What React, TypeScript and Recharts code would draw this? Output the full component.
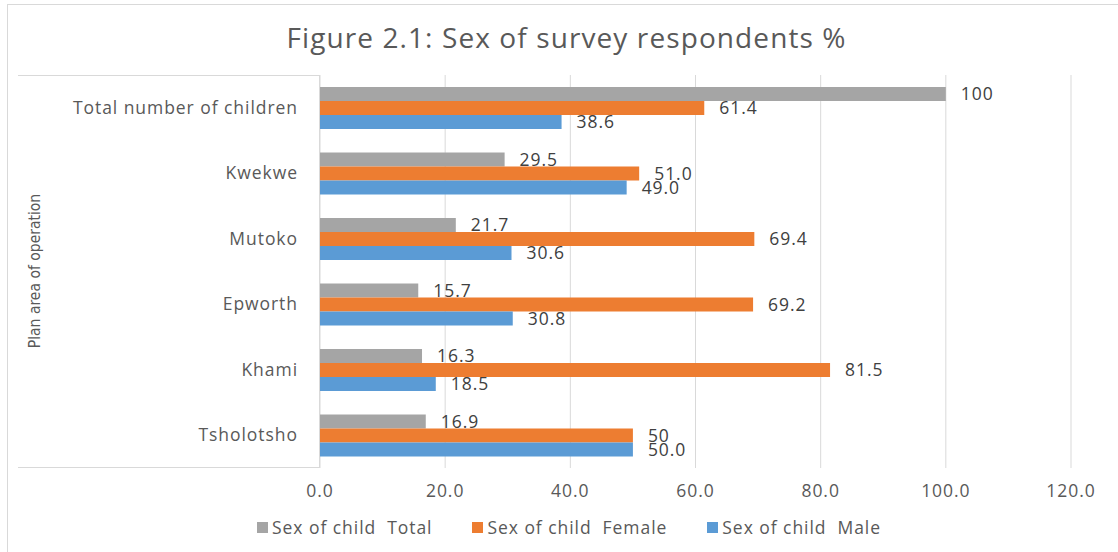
import { BarChart, Bar, XAxis, YAxis, CartesianGrid, LabelList } from 'recharts'

// Plan areas, top to bottom
const categories = ['Total number of children', 'Kwekwe', 'Mutoko', 'Epworth', 'Khami', 'Tsholotsho']

// Percentages as printed on the bars (the text is kept so labels read exactly as shown)
const totalPct = ['100', '29.5', '21.7', '15.7', '16.3', '16.9']
const femalePct = ['61.4', '51.0', '69.4', '69.2', '81.5', '50']
const malePct = ['38.6', '49.0', '30.6', '30.8', '18.5', '50.0']

const xTicks = [0, 20, 40, 60, 80, 100, 120]

const series = [
  { key: 'total', name: 'Sex of child  Total', color: '#A5A5A5' },
  { key: 'female', name: 'Sex of child  Female', color: '#ED7D31' },
  { key: 'male', name: 'Sex of child  Male', color: '#5B9BD5' },
]

const data = categories.map((name, i) => ({
  name,
  total: parseFloat(totalPct[i]),
  totalLabel: totalPct[i],
  female: parseFloat(femalePct[i]),
  femaleLabel: femalePct[i],
  male: parseFloat(malePct[i]),
  maleLabel: malePct[i],
}))

const font = '"Open Sans", "DejaVu Sans", sans-serif'
const textColor = '#595959'
const gridColor = '#D9D9D9'
const spacing = 0.95

const axisText = { fill: textColor, fontSize: 17.5, fontFamily: font, letterSpacing: spacing }

export default function App() {
  return (
    <div
      style={{
        position: 'absolute',
        left: 0,
        top: 0,
        width: 1118,
        height: 552,
        background: '#fff',
        overflow: 'hidden',
        fontFamily: font,
      }}
    >
      {/* outer chart frame */}
      <div
        style={{
          position: 'absolute',
          left: 7,
          top: 4,
          width: 1130,
          height: 570,
          border: `1px solid ${gridColor}`,
        }}
      />

      {/* box behind the category labels */}
      <div
        style={{
          position: 'absolute',
          left: 18,
          top: 75,
          width: 302,
          height: 393,
          borderTop: `1px solid ${gridColor}`,
          borderBottom: `1px solid ${gridColor}`,
          borderRight: `1px solid ${gridColor}`,
          boxSizing: 'border-box',
        }}
      />

      <div
        style={{
          position: 'absolute',
          left: 0,
          width: 1133,
          top: 18,
          textAlign: 'center',
          fontSize: 28,
          letterSpacing: 1.1,
          color: textColor,
          lineHeight: '38px',
        }}
      >
        Figure 2.1: Sex of survey respondents %
      </div>

      <div
        style={{
          position: 'absolute',
          left: 35,
          top: 271,
          transform: 'translate(-50%, -50%) rotate(-90deg)',
          whiteSpace: 'nowrap',
          fontFamily: '"Liberation Sans Narrow", "DejaVu Sans Condensed", sans-serif',
          fontSize: 15.5,
          color: textColor,
        }}
      >
        Plan area of operation
      </div>

      <div style={{ position: 'absolute', left: 0, top: 0 }}>
        <BarChart
          width={1118}
          height={552}
          layout="vertical"
          data={data}
          margin={{ top: 75, right: 47, bottom: 54, left: 0 }}
          barGap={0}
          barSize={14}
        >
          <CartesianGrid horizontal={false} stroke={gridColor} />
          <XAxis
            type="number"
            domain={[0, 120]}
            ticks={xTicks}
            tickFormatter={(v: number) => v.toFixed(1)}
            axisLine={false}
            tickLine={false}
            tickMargin={11}
            height={30}
            tick={axisText}
          />
          <YAxis
            type="category"
            dataKey="name"
            width={320}
            axisLine={false}
            tickLine={false}
            tickMargin={16}
            tick={axisText}
          />
          {series.map((s) => (
            <Bar key={s.key} dataKey={s.key} name={s.name} fill={s.color} isAnimationActive={false}>
              <LabelList
                dataKey={`${s.key}Label`}
                position="right"
                offset={15}
                fill="#404040"
                fontSize={17.5}
                fontFamily={font}
                letterSpacing={spacing}
              />
            </Bar>
          ))}
        </BarChart>
      </div>

      {/* legend */}
      <div
        style={{
          position: 'absolute',
          left: 0,
          width: 1138,
          top: 515,
          display: 'flex',
          justifyContent: 'center',
          gap: 40,
          fontSize: 17.5,
          letterSpacing: spacing,
          color: textColor,
          lineHeight: '24px',
        }}
      >
        {series.map((s) => (
          <div key={s.key} style={{ display: 'flex', alignItems: 'center', whiteSpace: 'pre' }}>
            <span style={{ width: 11, height: 11, background: s.color, marginRight: 4, display: 'inline-block' }} />
            {s.name}
          </div>
        ))}
      </div>
    </div>
  )
}
